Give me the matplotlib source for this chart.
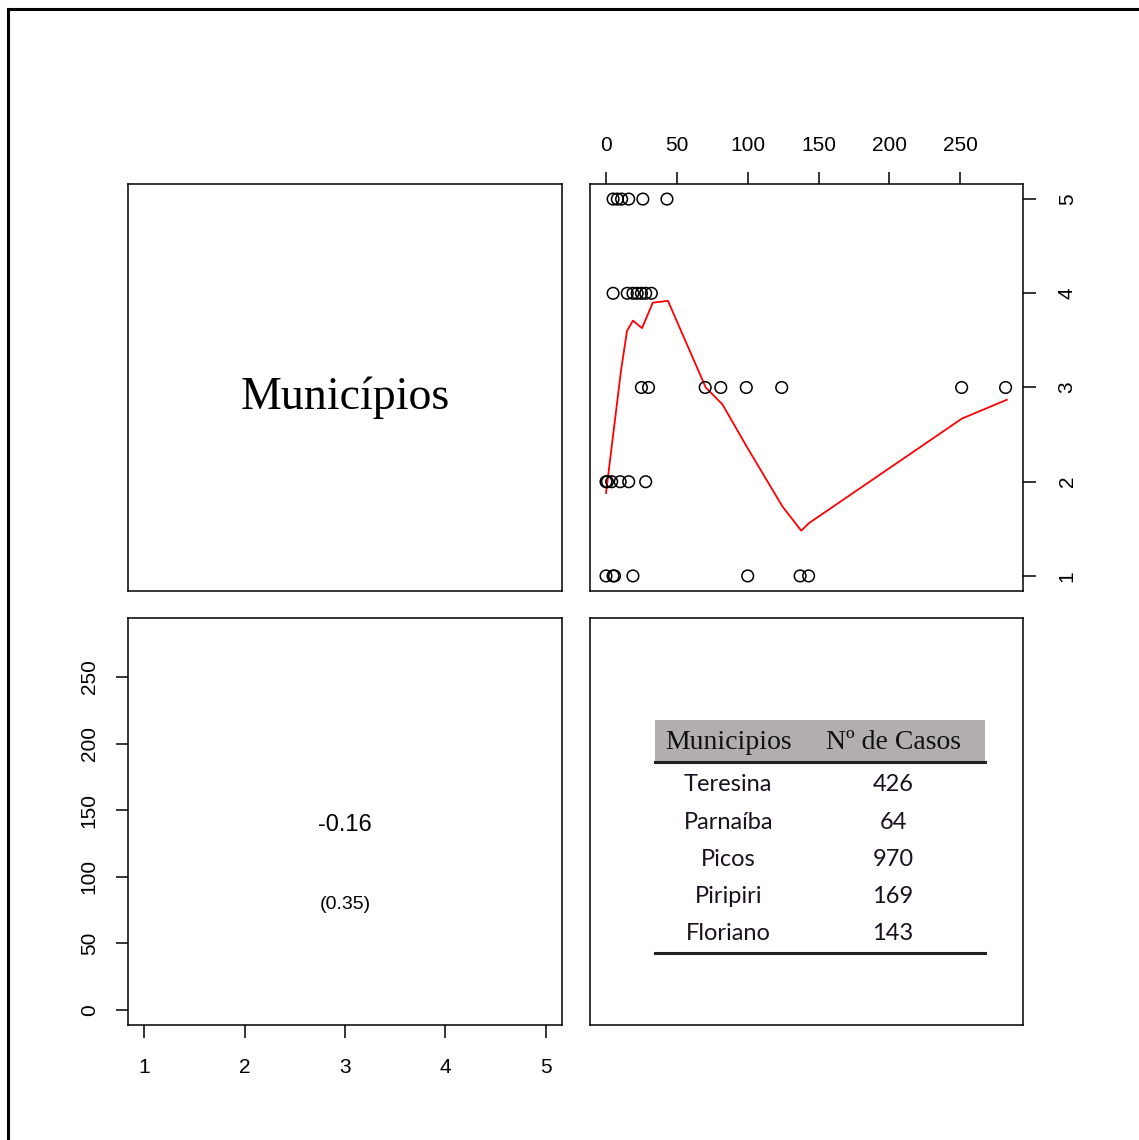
#pairs-style chart: scatter + lowess, correlation panel and a small table

import matplotlib
matplotlib.use("Agg")
import matplotlib.pyplot as plt
from matplotlib.lines import Line2D
from matplotlib.patches import Rectangle

W, H = 1139, 1140

# scatter data (x = casos, y = codigo do municipio)
casos = [5, 8, 11, 16, 26, 43,
         5, 15, 19, 22, 25, 28, 32,
         25, 30, 70, 81, 99, 124, 251, 282,
         0, 1, 4, 10, 16, 28,
         0, 5, 6, 19, 100, 137, 143]
codigo = [5] * 6 + [4] * 7 + [3] * 8 + [2] * 6 + [1] * 7

# smoothed (lowess) curve
lowess_x = [0, 10.6, 14.8, 19, 25.4, 33, 43.7, 70.4, 82.2, 99.8, 124.4, 137.8, 143.2, 251.2, 282.9]
lowess_y = [1.88, 3.18, 3.6, 3.71, 3.63, 3.9, 3.92, 3.0, 2.82, 2.36, 1.74, 1.48, 1.56, 2.67, 2.87]

corr_text = "-0.16"
pval_text = "(0.35)"
var_name = "Municípios"

# table
tab_header = ["Municipios", "Nº de Casos"]
tab_municipios = ["Teresina", "Parnaíba", "Picos", "Piripiri", "Floriano"]
tab_casos = ["426", "64", "970", "169", "143"]

x_ticks = [0, 50, 100, 150, 200, 250]
y_ticks = [1, 2, 3, 4, 5]

plt.rcParams["font.family"] = ["Liberation Sans", "DejaVu Sans"]


def rect(x0, y0, x1, y1):
    #pixel box -> figure fraction
    return [x0 / W, 1 - y1 / H, (x1 - x0) / W, (y1 - y0) / H]


fig = plt.figure(figsize=(W / 100, H / 100), dpi=100)

xlim = (-11.3, 294.3)
ylim = (0.84, 5.16)


def frame(ax):
    for s in ax.spines.values():
        s.set_linewidth(1.1)
    ax.tick_params(direction="out", length=9, width=1.1, labelsize=15)


# top left: variable name
ax_tl = fig.add_axes(rect(128, 184, 562, 591))
frame(ax_tl)
ax_tl.set_xticks([])
ax_tl.set_yticks([])
ax_tl.text(0.5, 0.475, var_name, ha="center", va="center", fontsize=33,
           family=["Liberation Serif", "DejaVu Serif"], transform=ax_tl.transAxes)

# top right: scatter
ax_tr = fig.add_axes(rect(590, 184, 1023, 591))
frame(ax_tr)
ax_tr.scatter(casos, codigo, s=70, facecolors="none", edgecolors="black", linewidths=1.1, zorder=3)
ax_tr.plot(lowess_x, lowess_y, color="red", lw=1.3)
ax_tr.set_xlim(xlim)
ax_tr.set_ylim(ylim)
ax_tr.set_xticks(x_ticks)
ax_tr.set_yticks(y_ticks)
ax_tr.xaxis.tick_top()
ax_tr.yaxis.tick_right()
ax_tr.tick_params(axis="x", pad=12)
ax_tr.tick_params(axis="y", pad=16)
for lab in ax_tr.get_yticklabels():
    lab.set_rotation(90)
    lab.set_va("center")

# bottom left: correlation
ax_bl = fig.add_axes(rect(128, 618, 562, 1025))
frame(ax_bl)
ax_bl.set_xlim(ylim)
ax_bl.set_ylim(xlim)
ax_bl.set_xticks(y_ticks)
ax_bl.set_yticks(x_ticks)
ax_bl.tick_params(axis="x", pad=15)
ax_bl.tick_params(axis="y", pad=12)
for lab in ax_bl.get_yticklabels():
    lab.set_rotation(90)
    lab.set_va("center")
ax_bl.text(0.5, 0.491, corr_text, ha="center", va="center", fontsize=17, transform=ax_bl.transAxes)
ax_bl.text(0.5, 0.295, pval_text, ha="center", va="center", fontsize=14, transform=ax_bl.transAxes)

# bottom right: table
ax_br = fig.add_axes(rect(590, 618, 1023, 1025))
frame(ax_br)
ax_br.set_xticks([])
ax_br.set_yticks([])
ax_br.set_xlim(0, 1)
ax_br.set_ylim(0, 1)

left, right = 0.150, 0.912
ax_br.add_patch(Rectangle((left, 0.646), right - left, 0.103, facecolor="#b3aeae", edgecolor="none"))
ax_br.plot([left, right], [0.646, 0.646], color="#222222", lw=2.2)
ax_br.plot([left, right], [0.177, 0.177], color="#222222", lw=2.2)

col_x = [0.319, 0.700]
for cx, h in zip(col_x, tab_header):
    ax_br.text(cx, 0.695, h, ha="center", va="center", fontsize=20,
               family=["Liberation Serif", "DejaVu Serif"], color="#111111")
for i, (m, c) in enumerate(zip(tab_municipios, tab_casos)):
    yy = 0.590 - i * 0.0915
    ax_br.text(col_x[0], yy, m, ha="center", va="center", fontsize=17,
               family=["Lato", "DejaVu Sans"], color="#1a1020")
    ax_br.text(col_x[1], yy, c, ha="center", va="center", fontsize=17,
               family=["Lato", "DejaVu Sans"], color="#1a1020")

# outer frame (cut at right and bottom)
fig.add_artist(Line2D([8 / W, 1], [1 - 9 / H, 1 - 9 / H], color="black", lw=2.2, transform=fig.transFigure))
fig.add_artist(Line2D([8 / W, 8 / W], [1 - 9 / H, 0], color="black", lw=2.2, transform=fig.transFigure))

plt.savefig("out.png", dpi=100)
plt.clf()
